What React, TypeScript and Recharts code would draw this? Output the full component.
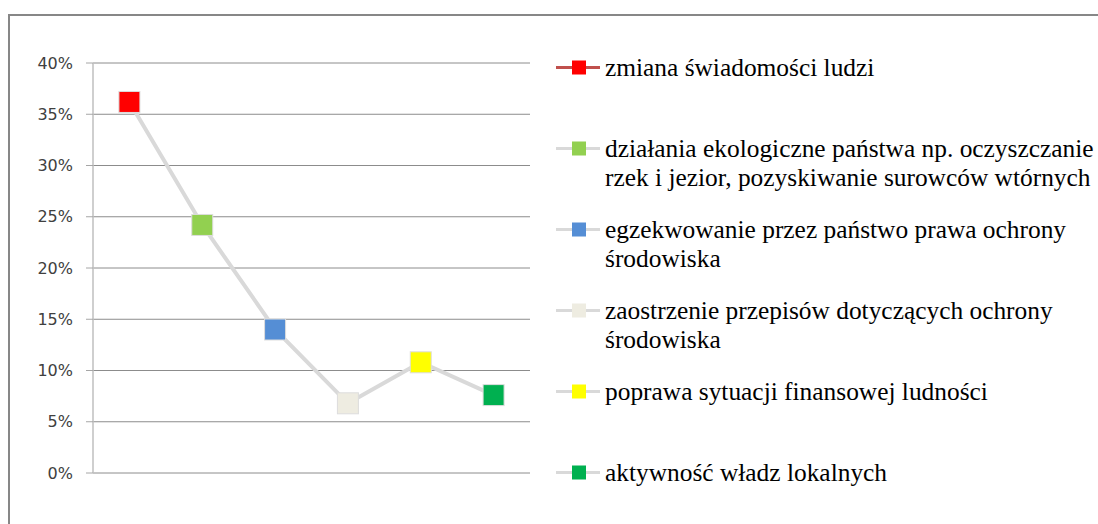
import { LineChart, Line, XAxis, YAxis, CartesianGrid } from "recharts";

const categories = [
  "zmiana świadomości ludzi",
  "działania ekologiczne państwa np. oczyszczanie rzek i jezior, pozyskiwanie surowców wtórnych",
  "egzekwowanie przez państwo prawa ochrony środowiska",
  "zaostrzenie przepisów dotyczących ochrony środowiska",
  "poprawa sytuacji finansowej ludności",
  "aktywność władz lokalnych",
];
const values = [0.362, 0.242, 0.14, 0.068, 0.108, 0.076];
const pointColors = ["#ff0000", "#92d050", "#558ed5", "#eeece1", "#ffff00", "#00b050"];
const legendLineColors = ["#c0504d", "#d9d9d9", "#d9d9d9", "#d9d9d9", "#d9d9d9", "#d9d9d9"];
const yTicks = [0, 0.05, 0.1, 0.15, 0.2, 0.25, 0.3, 0.35, 0.4];

const data = categories.map((name, i) => ({
  idx: i,
  name,
  value: values[i],
  color: pointColors[i],
}));

const serif = '"Liberation Serif", "Times New Roman", serif';

function SquareDot(props: any) {
  const { cx, cy, payload, index } = props;
  if (cx == null || cy == null) return null;
  return (
    <rect
      key={`dot-${index}`}
      x={cx - 10.5}
      y={cy - 10.5}
      width={21}
      height={21}
      fill={payload.color}
      stroke="#dddddd"
      strokeWidth={1}
    />
  );
}

// legend drawn by hand: marker line + square, text wraps like the original
function LegendList() {
  return (
    <div style={{ position: "absolute", left: 555, top: 52.5 }}>
      {categories.map((c, i) => (
        <div key={c} style={{ display: "flex", alignItems: "flex-start", height: 81 }}>
          <svg width={50} height={29} style={{ flex: "none" }}>
            <line x1={1} x2={45} y1={14.5} y2={14.5} stroke={legendLineColors[i]} strokeWidth={3} />
            <rect x={17} y={7.5} width={14} height={14} fill={pointColors[i]} />
          </svg>
          <div
            style={{
              fontFamily: serif,
              fontSize: 25.4,
              lineHeight: "29px",
              color: "#000",
              width: 505,
            }}
          >
            {c}
          </div>
        </div>
      ))}
    </div>
  );
}

export default function App() {
  return (
    <div
      style={{
        position: "fixed",
        left: 0,
        top: 0,
        width: 1098,
        height: 524,
        overflow: "hidden",
        background: "#fff",
      }}
    >
      <div
        style={{
          position: "absolute",
          left: 8,
          top: 14,
          width: 1200,
          height: 600,
          border: "2px solid #878787",
        }}
      />
      <div style={{ position: "absolute", left: 0, top: 0 }}>
        <LineChart
          width={540}
          height={524}
          data={data}
          margin={{ top: 63, right: 10, bottom: 51, left: 0 }}
        >
          <CartesianGrid horizontal vertical={false} stroke="#8c8c8c" strokeWidth={1} />
          <XAxis dataKey="idx" type="number" domain={[-0.5, 5.5]} hide />
          <YAxis
            width={93}
            domain={[0, 0.4]}
            ticks={yTicks}
            interval={0}
            tickFormatter={(v: number) => `${Math.round(v * 100)}%`}
            tickSize={7}
            tickMargin={13}
            axisLine={{ stroke: "#bfbfbf", strokeWidth: 1.5 }}
            tickLine={{ stroke: "#a6a6a6" }}
            tick={{ fontFamily: '"DejaVu Sans", sans-serif', fontSize: 16, fill: "#404040" }}
          />
          <Line
            type="linear"
            dataKey="value"
            stroke="#d9d9d9"
            strokeWidth={4}
            dot={SquareDot}
            activeDot={false}
            isAnimationActive={false}
          />
        </LineChart>
      </div>
      <LegendList />
    </div>
  );
}
